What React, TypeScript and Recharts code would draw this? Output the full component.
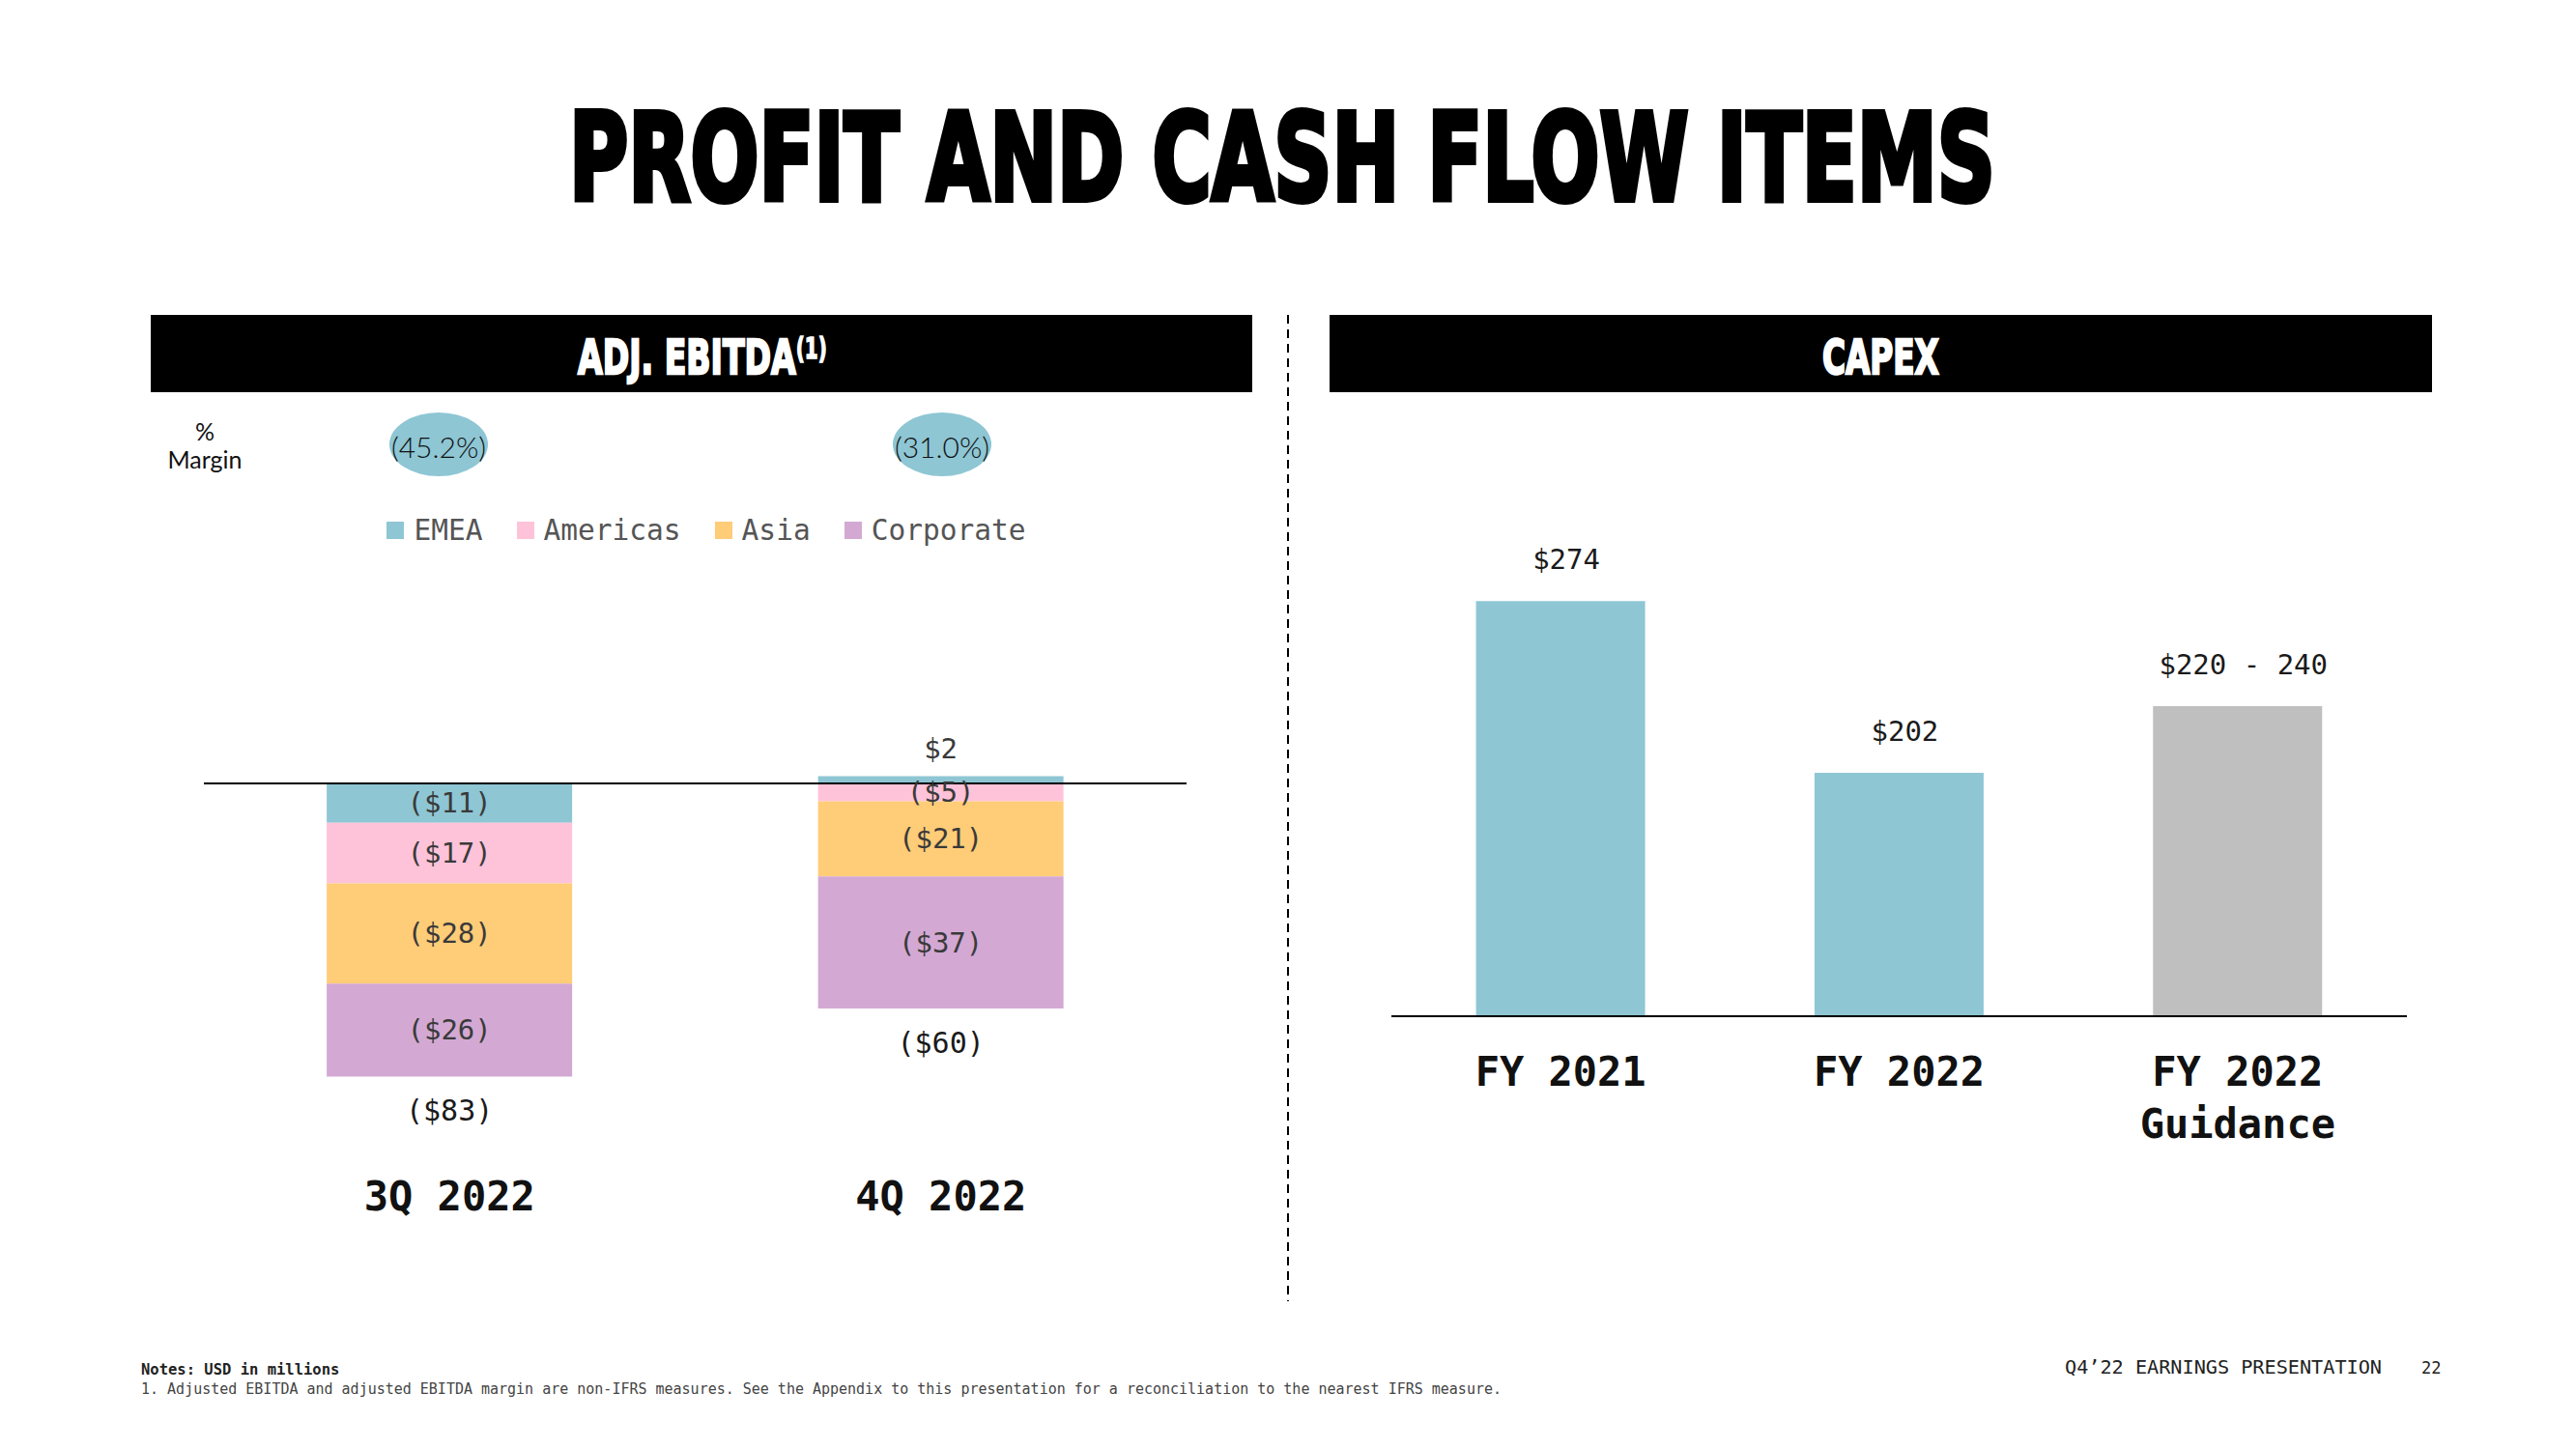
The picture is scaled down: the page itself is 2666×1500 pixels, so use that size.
import React from 'react';
import { BarChart, Bar, XAxis, YAxis, Legend, LabelList, ReferenceLine, Cell } from 'recharts';

// ---------- DATA ----------
const ebitdaCategories = ['3Q 2022', '4Q 2022'];
const emeaValues = [-11, 2];
const americasValues = [-17, -5];
const asiaValues = [-28, -21];
const corporateValues = [-26, -37];
const ebitdaTotals = [-83, -60];
const marginLabels = ['(45.2%)', '(31.0%)'];
const seriesNames = ['EMEA', 'Americas', 'Asia', 'Corporate'];
const seriesKeys = ['emea', 'americas', 'asia', 'corporate'];

const capexCategories = ['FY 2021', 'FY 2022', 'FY 2022\nGuidance'];
const capexValues = [274, 202, 230];
const capexLabels = ['$274', '$202', '$220 - 240'];

// ---------- STYLE ----------
const TEAL = '#8EC6D4';
const PINK = '#FFC3D9';
const YELLOW = '#FFCC78';
const PURPLE = '#D3A9D3';
const GREY = '#BFBFBF';
const seriesColors = [TEAL, PINK, YELLOW, PURPLE];
const capexColors = [TEAL, TEAL, GREY];
const MONO = "'DejaVu Sans Mono', 'Liberation Mono', monospace";
const SANS = "Lato, 'Noto Sans', 'DejaVu Sans', sans-serif";
const HEAVY = "'DejaVu Sans', 'Liberation Sans', sans-serif";

const ebitdaData = ebitdaCategories.map((name, i) => ({
  name,
  emea: emeaValues[i],
  americas: americasValues[i],
  asia: asiaValues[i],
  corporate: corporateValues[i],
  total: ebitdaTotals[i],
}));

const capexData = capexCategories.map((name, i) => ({ name, value: capexValues[i] }));

const fmtNeg = (v: number) => (v < 0 ? `($${Math.abs(v)})` : `$${v}`);

// Text squeezed horizontally to a target width (display-font look)
const FitText = (props: { left: number; top: number; width: number; style: React.CSSProperties; children: React.ReactNode }) => {
  const ref = React.useRef<HTMLSpanElement>(null);
  const [scale, setScale] = React.useState(1);
  React.useLayoutEffect(() => {
    if (ref.current) {
      const w = ref.current.offsetWidth;
      if (w > 0) setScale(props.width / w);
    }
  }, [props.width]);
  return (
    <div
      style={{
        position: 'absolute',
        left: props.left,
        top: props.top,
        whiteSpace: 'nowrap',
        transformOrigin: '0 0',
        transform: `scaleX(${scale})`,
        ...props.style,
      }}
    >
      <span ref={ref} style={{ display: 'inline-block' }}>
        {props.children}
      </span>
    </div>
  );
};

const CategoryTick = (props: any) => {
  const { x, y, payload } = props;
  const lines = String(payload.value).split('\n');
  return (
    <g>
      {lines.map((l: string, i: number) => (
        <text
          key={i}
          x={Number(x)}
          y={Number(y) + 57 + i * 54}
          textAnchor="middle"
          dominantBaseline="central"
          fontFamily={MONO}
          fontWeight={700}
          fontSize={42}
          fill="#111"
        >
          {l}
        </text>
      ))}
    </g>
  );
};

const SegmentLabel = (props: any) => {
  const x = Number(props.x);
  const y = Number(props.y);
  const w = Number(props.width);
  const h = Number(props.height);
  const v = Number(props.value);
  const cx = x + w / 2;
  const top = Math.min(y, y + h);
  const ly = v > 0 ? top - 29 : y + h / 2;
  return (
    <text x={cx} y={ly} textAnchor="middle" dominantBaseline="central" fontFamily={MONO} fontSize={29} fill="#3a3a3a">
      {fmtNeg(v)}
    </text>
  );
};

const TotalLabel = (props: any) => {
  const x = Number(props.x);
  const y = Number(props.y);
  const w = Number(props.width);
  const h = Number(props.height);
  const v = Number(props.value);
  const bottom = Math.max(y, y + h);
  return (
    <text x={x + w / 2} y={bottom + 35} textAnchor="middle" dominantBaseline="central" fontFamily={MONO} fontSize={30} fill="#1a1a1a">
      {fmtNeg(v)}
    </text>
  );
};

const CapexLabel = (props: any) => {
  const x = Number(props.x);
  const y = Number(props.y);
  const w = Number(props.width);
  const h = Number(props.height);
  const idx = Number(props.index);
  const top = Math.min(y, y + h);
  return (
    <text x={x + w / 2 + 6} y={top - 43} textAnchor="middle" dominantBaseline="central" fontFamily={MONO} fontSize={29} fill="#1a1a1a">
      {capexLabels[idx]}
    </text>
  );
};

const EbitdaLegend = () => (
  <div style={{ display: 'flex', justifyContent: 'center', alignItems: 'center', height: 30, paddingLeft: 12 }}>
    {seriesNames.map((n, i) => (
      <div key={n} style={{ display: 'flex', alignItems: 'center', marginRight: i < seriesNames.length - 1 ? 35 : 0 }}>
        <div style={{ width: 18, height: 18, background: seriesColors[i], marginRight: 10 }} />
        <span style={{ fontFamily: MONO, fontSize: 29.5, color: '#555', lineHeight: '30px' }}>{n}</span>
      </div>
    ))}
  </div>
);

export default function App() {
  return (
    <div style={{ position: 'absolute', left: 0, top: 0, width: 2666, height: 1500, background: '#fff', overflow: 'hidden' }}>
      <svg width={2666} height={1500} style={{ position: 'absolute', left: 0, top: 0 }}>
        {/* Header bars */}
        <rect x={156} y={326} width={1140} height={80} fill="#000" />
        <rect x={1376} y={326} width={1141} height={80} fill="#000" />
        {/* Divider */}
        <line x1={1333} y1={326} x2={1333} y2={1347} stroke="#000" strokeWidth={2} strokeDasharray="9 6" />
        {/* Margin row */}
        <text x={212} y={446} textAnchor="middle" dominantBaseline="central" fontFamily={SANS} fontSize={25} fill="#111">%</text>
        <text x={212} y={475} textAnchor="middle" dominantBaseline="central" fontFamily={SANS} fontSize={25} fill="#111">Margin</text>
        {marginLabels.map((m, i) => {
          const cx = i === 0 ? 454 : 975;
          return (
            <g key={m}>
              <ellipse cx={cx} cy={460} rx={51} ry={33} fill={TEAL} />
              <text x={cx} y={462} textAnchor="middle" dominantBaseline="central" fontFamily={SANS} fontWeight={300} fontSize={30} fill="#111">
                {m}
              </text>
            </g>
          );
        })}
        {/* Footer */}
        <text x={146} y={1423} fontFamily={MONO} fontWeight={700} fontSize={15.5} fill="#222">Notes: USD in millions</text>
        <text x={146} y={1443} textLength={1408} lengthAdjust="spacingAndGlyphs" fontFamily={MONO} fontSize={15} fill="#444">
          1. Adjusted EBITDA and adjusted EBITDA margin are non-IFRS measures. See the Appendix to this presentation for a reconciliation to the nearest IFRS measure.
        </text>
        <text x={2137} y={1422} textLength={328} lengthAdjust="spacingAndGlyphs" fontFamily={MONO} fontSize={20} fill="#222">
          Q4’22 EARNINGS PRESENTATION
        </text>
        <text x={2506} y={1422} fontFamily={MONO} fontSize={17} fill="#222">22</text>
      </svg>

      {/* Title */}
      <FitText
        left={589}
        top={101}
        width={1476}
        style={{ fontFamily: HEAVY, fontWeight: 900, fontSize: 125, lineHeight: '125px', color: '#000', WebkitTextStroke: '6px #000' }}
      >
        PROFIT AND CASH FLOW ITEMS
      </FitText>
      {/* Panel headers */}
      <FitText
        left={598}
        top={345}
        width={258}
        style={{ fontFamily: HEAVY, fontWeight: 900, fontSize: 50, lineHeight: '50px', color: '#fff', WebkitTextStroke: '2.5px #fff' }}
      >
        ADJ. EBITDA
        <span style={{ fontSize: 30, position: 'relative', top: -16, WebkitTextStroke: '1.5px #fff' }}>(1)</span>
      </FitText>
      <FitText
        left={1886}
        top={345}
        width={121}
        style={{ fontFamily: HEAVY, fontWeight: 900, fontSize: 50, lineHeight: '50px', color: '#fff', WebkitTextStroke: '2.5px #fff' }}
      >
        CAPEX
      </FitText>

      {/* Left chart: Adj. EBITDA */}
      <div style={{ position: 'absolute', left: 150, top: 500 }}>
        <BarChart
          width={1150}
          height={800}
          data={ebitdaData}
          margin={{ top: 237, right: 72, bottom: 59, left: 61 }}
          stackOffset="sign"
          barCategoryGap="25%"
        >
          <XAxis dataKey="name" axisLine={false} tickLine={false} tickSize={0} tickMargin={0} height={60} interval={0} tick={<CategoryTick />} />
          <YAxis hide type="number" domain={[-100, 20]} allowDataOverflow />
          <Legend
            verticalAlign="middle"
            align="center"
            layout="horizontal"
            wrapperStyle={{ top: 34, left: 0, width: 1150 }}
            content={<EbitdaLegend />}
          />
          {seriesKeys.map((k, i) => (
            <Bar key={k} dataKey={k} name={seriesNames[i]} stackId="a" fill={seriesColors[i]} isAnimationActive={false}>
              <LabelList dataKey={k} content={<SegmentLabel />} />
              {k === 'corporate' ? <LabelList dataKey="total" content={<TotalLabel />} /> : null}
            </Bar>
          ))}
          <ReferenceLine y={0} stroke="#000" strokeWidth={2} />
        </BarChart>
      </div>

      {/* Right chart: Capex */}
      <div style={{ position: 'absolute', left: 1380, top: 500 }}>
        <BarChart
          width={1140}
          height={760}
          data={capexData}
          margin={{ top: 58, right: 29, bottom: 148, left: 60 }}
          barCategoryGap="25%"
        >
          <XAxis
            dataKey="name"
            axisLine={{ stroke: '#000', strokeWidth: 2 }}
            tickLine={false}
            tickSize={0}
            tickMargin={0}
            height={60}
            interval={0}
            tick={<CategoryTick />}
          />
          <YAxis hide type="number" domain={[100, 300]} allowDataOverflow />
          <Bar dataKey="value" isAnimationActive={false}>
            {capexData.map((d, i) => (
              <Cell key={d.name} fill={capexColors[i]} />
            ))}
            <LabelList dataKey="value" content={<CapexLabel />} />
          </Bar>
        </BarChart>
      </div>
    </div>
  );
}
